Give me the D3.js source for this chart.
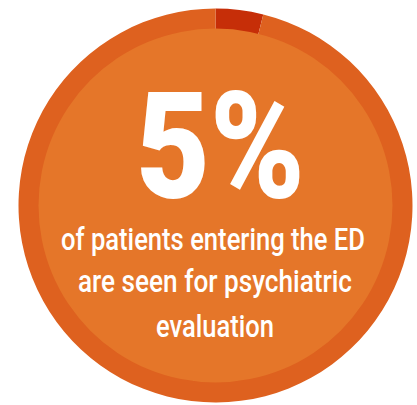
<!DOCTYPE html>
<html><head><meta charset="utf-8">
<script src="https://cdn.jsdelivr.net/npm/d3@7"></script>
<style>html,body{margin:0;padding:0;background:#fff;}svg{display:block;}</style>
</head><body>
<script>
const segments = ["Psychiatric evaluation", "Other ED patients"];
const segmentValues = [3.9, 96.1];
const headline = "5%";
const captionLines = ["of patients entering the ED", "are seen for psychiatric", "evaluation"];

const W = 417, H = 405;
const cx = 215.5, cy = 205.5, R = 197, r = 177;
const colors = d3.scaleOrdinal().domain(segments).range(["#C62E08", "#DE611F"]);

const svg = d3.select("body").append("svg").attr("width", W).attr("height", H);
const g = svg.append("g").attr("transform", `translate(${cx},${cy})`);

const pie = d3.pie().sort(null).value(d => d.v);
const arc = d3.arc().innerRadius(r - 1).outerRadius(R);
g.selectAll("path.seg")
  .data(pie(segments.map((s, i) => ({s, v: segmentValues[i]}))))
  .join("path").attr("class", "seg")
  .attr("d", arc).attr("fill", d => colors(d.data.s));

g.append("circle").attr("r", r).attr("fill", "#E57629");

const font = "Roboto, 'Liberation Sans', sans-serif";
g.append("text")
  .attr("x", 5).attr("y", 198 - cy)
  .attr("text-anchor", "middle")
  .attr("font-family", font).attr("font-weight", 900)
  .attr("font-size", 148)
  .attr("textLength", 169).attr("lengthAdjust", "spacingAndGlyphs")
  .attr("fill", "#fff").text(headline);

const lineY = [250, 291.5, 336.5];
const lineW = [304, 274, 118];
const lineX = [213, 215, 215];
g.selectAll("text.cap").data(captionLines).join("text").attr("class", "cap")
  .attr("x", (d, i) => lineX[i] - cx).attr("y", (d, i) => lineY[i] - cy)
  .attr("text-anchor", "middle")
  .attr("font-family", font).attr("font-weight", 500).attr("font-size", 32)
  .attr("textLength", (d, i) => lineW[i]).attr("lengthAdjust", "spacingAndGlyphs")
  .attr("fill", "#fff").text(d => d);
</script>
</body></html>
